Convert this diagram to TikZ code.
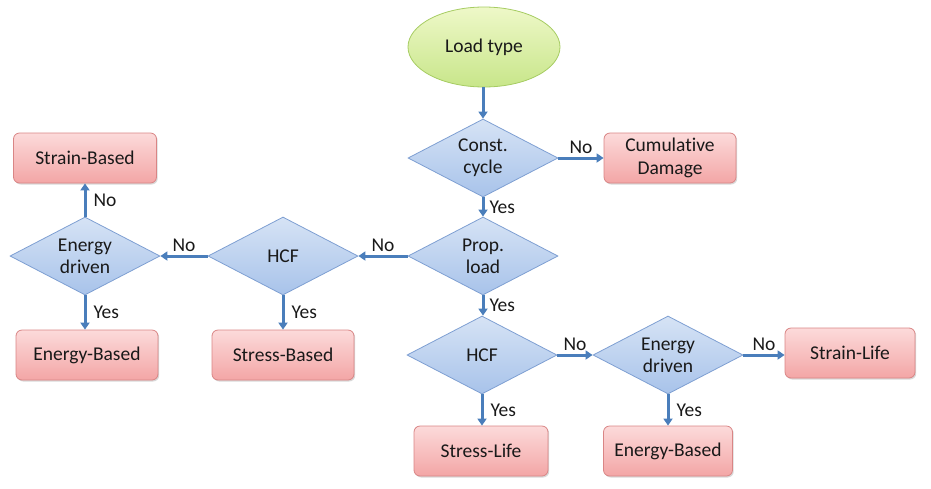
\documentclass[tikz,border=0pt]{standalone}
\usepackage{fontspec}
\setmainfont{Carlito}[Ligatures={NoCommon}]
\usetikzlibrary{shapes.geometric,arrows.meta,shadows}
\definecolor{arrowc}{HTML}{4A7EBB}
\definecolor{gtop}{HTML}{EEF8C8}
\definecolor{gbot}{HTML}{C8E68A}
\definecolor{gdraw}{HTML}{A6CC62}
\definecolor{btop}{HTML}{D6E3F5}
\definecolor{bbot}{HTML}{A8C3EA}
\definecolor{bdraw}{HTML}{7E9FD2}
\definecolor{rtop}{HTML}{FCDADA}
\definecolor{rbot}{HTML}{F3A6A6}
\definecolor{rdraw}{HTML}{D98585}
\tikzset{
  txt/.style={font=\fontsize{19.5}{22}\selectfont, text=black!90},
  startnode/.style={txt, ellipse, draw=gdraw, line width=0.8pt, top color=gtop, bottom color=gbot,
     minimum width=152pt, minimum height=80pt, inner sep=0pt},
  decision/.style={txt, diamond, draw=bdraw, line width=0.8pt, top color=btop, bottom color=bbot,
     minimum width=150pt, minimum height=78pt, inner sep=0pt, aspect=1.9, align=center,
     font=\fontsize{19.5}{22}\selectfont},
  result/.style={txt, rectangle, rounded corners=6pt, draw=rdraw, line width=0.8pt, top color=rtop, bottom color=rbot,
     minimum height=50pt, inner sep=0pt, align=center, font=\fontsize{19.5}{23}\selectfont,
     drop shadow={shadow xshift=1.2pt, shadow yshift=-1.5pt, fill=black!25, opacity=0.6}},
  flow/.style={draw=arrowc, line width=3pt, -{Triangle[length=7pt,width=9pt]}},
  lbl/.style={txt, inner sep=3pt}
}
\begin{document}
\begin{tikzpicture}[x=1pt,y=-1pt]
\useasboundingbox (0,0) rectangle (931,488);
\node[startnode] (load) at (484,47) {Load type};
\node[decision] (cc) at (483,158) {Const.\\cycle};
\node[result, minimum width=132pt] (cd) at (670,158) {Cumulative\\Damage};
\node[decision] (prop) at (483,256) {Prop.\\load};
\node[decision] (hcfL) at (283,256) {HCF};
\node[decision] (edL) at (85,256) {Energy\\driven};
\node[result, minimum width=143pt] (sb) at (85,158) {Strain-Based};
\node[result, minimum width=142pt] (ebL) at (87,355) {Energy-Based};
\node[result, minimum width=142pt] (stb) at (283,355) {Stress-Based};
\node[decision] (hcfB) at (482,355) {HCF};
\node[decision] (edR) at (668,355) {Energy\\driven};
\node[result, minimum width=130pt] (sl) at (850,353) {Strain-Life};
\node[result, minimum width=134pt] (stl) at (481,451) {Stress-Life};
\node[result, minimum width=129pt] (ebR) at (668,451) {Energy-Based};

\draw[flow] (load.south -| cc.north) -- (cc.north);
\draw[flow] (cc.east) -- node[lbl, above] {No} (cd.west);
\draw[flow] (cc.south) -- node[lbl, right, xshift=2pt] {Yes} (cc.south |- prop.north);
\draw[flow] (prop.west) -- node[lbl, above] {No} (hcfL.east);
\draw[flow] (hcfL.west) -- node[lbl, above] {No} (edL.east);
\draw[flow] (edL.north) -- node[lbl, right, xshift=4pt] {No} (edL.north |- sb.south);
\draw[flow] (edL.south) -- node[lbl, right, xshift=4pt] {Yes} (edL.south |- ebL.north);
\draw[flow] (hcfL.south) -- node[lbl, right, xshift=4pt] {Yes} (hcfL.south |- stb.north);
\draw[flow] (prop.south) -- node[lbl, right, xshift=2pt] {Yes} (prop.south |- hcfB.north);
\draw[flow] (hcfB.east) -- node[lbl, above] {No} (edR.west);
\draw[flow] (edR.east) -- node[lbl, above] {No} (sl.west |- edR.east);
\draw[flow] (hcfB.south) -- node[lbl, right, xshift=4pt] {Yes} (hcfB.south |- stl.north);
\draw[flow] (edR.south) -- node[lbl, right, xshift=4pt] {Yes} (edR.south |- ebR.north);
\end{tikzpicture}
\end{document}
